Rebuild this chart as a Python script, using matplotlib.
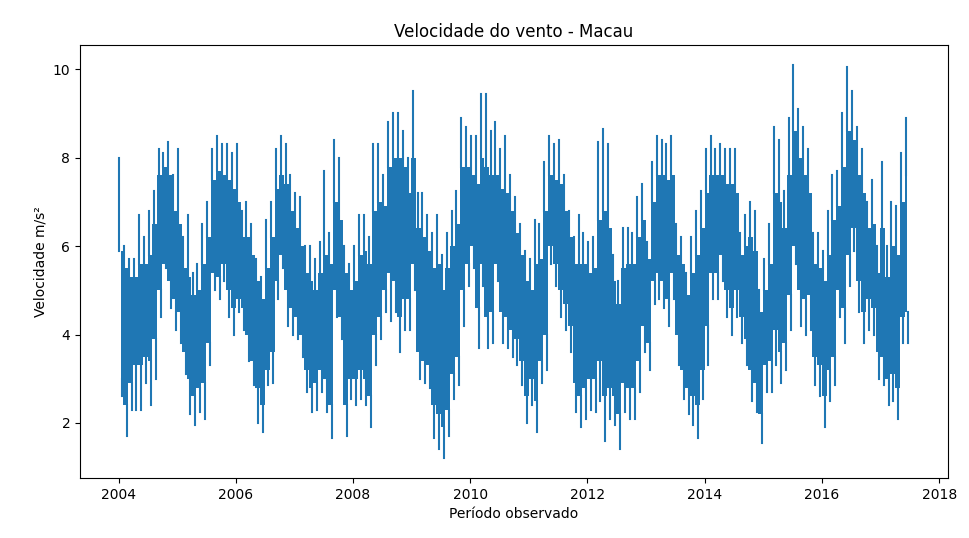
"""
Velocidade do vento - Macau
Monthly readings taken off the reference chart: the extreme high / low
spikes and the extent of the solid core band.  The core is drawn as a
filled band, the spikes as thin vertical strokes above and below it.
"""

import pandas as pd
import matplotlib
matplotlib.use("Agg")
import matplotlib.pyplot as plt
import matplotlib.dates as mdates

# ── data: readings per month, Jan 2004 .. Jun 2017 ───────────────────────────
START_MONTH = "2004-01-01"

MONTH_HIGH = [
    8.0, 6.0, 5.7, 5.7, 6.7, 6.2, 6.8, 7.25, 8.2, 8.1, 8.35, 7.6,    # 2004
    8.2, 6.2, 6.7, 5.4, 5.6, 6.5, 7.0, 8.2, 8.5, 8.3, 8.3, 8.1,      # 2005
    8.3, 6.8, 7.0, 6.5, 5.7, 5.3, 6.6, 7.0, 8.2, 8.5, 8.3, 7.6,      # 2006
    7.2, 7.1, 6.0, 6.0, 5.7, 6.1, 7.7, 6.3, 8.4, 8.0, 6.0, 5.6,      # 2007
    6.0, 6.7, 6.7, 6.2, 8.3, 8.3, 7.6, 8.8, 9.0, 9.0, 8.6, 8.0,      # 2008
    9.5, 7.2, 7.2, 6.7, 6.3, 6.7, 5.8, 6.3, 6.8, 7.25, 8.9, 8.7,     # 2009
    8.5, 8.5, 9.45, 9.45, 8.6, 8.8, 8.2, 8.5, 7.6, 7.1, 6.5, 5.9,    # 2010
    5.7, 6.6, 6.5, 7.9, 8.5, 8.3, 8.4, 7.6, 6.8, 6.2, 6.7, 6.3,      # 2011
    6.1, 6.2, 8.35, 8.65, 8.3, 5.8, 5.2, 6.4, 6.4, 6.3, 7.1, 7.4,    # 2012
    6.1, 7.9, 8.5, 8.4, 8.3, 8.5, 6.5, 6.2, 5.4, 6.2, 6.8, 7.25,     # 2013
    8.2, 8.5, 8.2, 8.3, 8.2, 8.2, 8.2, 6.3, 6.7, 7.0, 6.8, 5.0,      # 2014
    5.7, 6.5, 8.7, 8.4, 7.25, 8.9, 10.1, 9.1, 8.7, 8.2, 6.3, 6.3,    # 2015
    5.9, 6.8, 7.6, 7.7, 9.0, 10.05, 9.5, 8.7, 8.2, 7.0, 7.5, 6.0,    # 2016
    7.9, 6.0, 7.0, 6.9, 8.1, 8.9,                                    # 2017
]

MONTH_LOW = [
    2.6, 1.7, 2.3, 2.3, 2.3, 2.9, 2.4, 3.0, 4.4, 5.5, 4.6, 4.1,      # 2004
    3.8, 3.1, 2.2, 1.95, 2.25, 2.1, 3.3, 5.0, 4.8, 5.2, 4.4, 4.0,    # 2005
    4.5, 4.1, 3.4, 2.85, 2.0, 1.8, 2.85, 2.9, 4.8, 5.5, 4.2, 4.0,    # 2006
    3.9, 3.5, 2.7, 2.25, 2.3, 2.7, 2.25, 1.65, 4.4, 3.9, 1.7, 2.55,  # 2007
    2.4, 2.55, 2.4, 1.9, 3.3, 3.9, 4.5, 4.3, 4.5, 3.6, 4.1, 4.1,     # 2008
    5.0, 3.0, 2.9, 2.8, 1.65, 1.4, 1.2, 1.7, 2.55, 2.85, 4.2, 5.1,   # 2009
    5.5, 3.7, 5.1, 3.7, 3.8, 5.2, 3.8, 3.7, 3.5, 3.3, 2.85, 2.0,     # 2010
    2.4, 1.8, 2.9, 3.2, 5.6, 5.1, 4.4, 4.1, 3.6, 2.25, 1.9, 2.1,     # 2011
    2.3, 2.25, 2.5, 1.6, 2.1, 1.95, 1.4, 2.25, 2.1, 2.1, 2.7, 3.6,   # 2012
    3.2, 4.7, 4.8, 4.6, 4.2, 4.8, 3.3, 2.55, 2.2, 1.95, 1.65, 2.55,  # 2013
    3.3, 4.8, 4.8, 5.2, 4.4, 4.0, 4.4, 3.8, 3.3, 2.5, 2.25, 1.55,    # 2014
    2.7, 2.7, 3.3, 2.9, 3.2, 4.1, 5.6, 4.2, 4.0, 4.1, 2.85, 2.6,     # 2015
    1.9, 2.5, 2.85, 4.4, 3.8, 5.1, 5.9, 4.5, 3.8, 4.1, 4.0, 3.0,     # 2016
    2.85, 2.4, 2.5, 2.1, 3.8, 3.8,                                   # 2017
]

# top and bottom of the solid part of the band
CORE_HIGH = [
    5.9, 5.5, 5.3, 5.3, 5.6, 5.6, 5.8, 6.5, 7.6, 7.8, 7.6, 6.8,      # 2004
    6.5, 5.5, 5.3, 4.9, 5.0, 5.6, 6.2, 7.5, 7.7, 7.6, 7.5, 7.3,      # 2005
    7.0, 6.2, 6.2, 5.8, 5.2, 4.8, 5.5, 6.2, 7.3, 7.6, 7.4, 6.8,      # 2006
    6.4, 6.0, 5.4, 5.2, 5.0, 5.4, 5.8, 5.6, 7.0, 6.6, 5.4, 5.0,      # 2007
    5.2, 5.8, 5.9, 5.6, 6.8, 7.0, 6.9, 7.8, 8.0, 8.0, 7.8, 7.2,      # 2008
    8.0, 6.4, 6.2, 5.9, 5.5, 5.6, 5.0, 5.5, 6.0, 6.5, 7.8, 7.8,      # 2009
    7.6, 7.4, 8.0, 7.8, 7.6, 7.6, 7.3, 7.2, 6.8, 6.3, 5.8, 5.2,      # 2010
    5.0, 5.6, 5.7, 6.8, 7.6, 7.5, 7.4, 6.8, 6.2, 5.6, 5.6, 5.6,      # 2011
    5.4, 5.5, 6.6, 6.8, 6.4, 5.2, 4.7, 5.5, 5.6, 5.6, 6.2, 6.6,      # 2012
    5.7, 7.0, 7.6, 7.6, 7.5, 7.6, 5.8, 5.6, 4.9, 5.4, 5.8, 6.4,      # 2013
    7.2, 7.6, 7.6, 7.6, 7.4, 7.4, 7.2, 5.8, 6.0, 6.2, 5.9, 4.5,      # 2014
    5.0, 5.6, 7.2, 7.0, 6.4, 7.6, 8.6, 8.0, 7.6, 7.2, 5.6, 5.5,      # 2015
    5.2, 5.8, 6.6, 6.9, 7.8, 8.6, 8.4, 7.6, 7.2, 6.4, 6.5, 5.4,      # 2016
    6.4, 5.3, 6.0, 5.8, 7.0, 7.6,                                    # 2017
]

CORE_LOW = [
    3.0, 2.4, 2.9, 3.3, 3.3, 3.5, 3.4, 3.9, 5.0, 5.6, 5.2, 4.8,      # 2004
    4.5, 3.6, 3.0, 2.6, 2.8, 2.9, 3.8, 5.4, 5.3, 5.6, 5.0, 4.6,      # 2005
    4.8, 4.6, 4.0, 3.4, 2.8, 2.4, 3.2, 3.6, 5.2, 5.8, 5.0, 4.6,      # 2006
    4.4, 4.0, 3.2, 2.8, 2.9, 3.2, 3.0, 2.4, 5.0, 4.4, 2.4, 3.0,      # 2007
    3.0, 3.2, 3.0, 2.6, 4.0, 4.4, 5.0, 5.4, 5.2, 4.4, 4.8, 4.8,      # 2008
    5.6, 3.6, 3.4, 3.3, 2.4, 2.2, 1.9, 2.3, 3.1, 3.5, 5.0, 5.6,      # 2009
    6.0, 4.6, 5.6, 4.4, 4.5, 5.6, 4.5, 4.4, 4.1, 3.9, 3.4, 2.6,      # 2010
    3.0, 2.5, 3.4, 4.0, 6.0, 5.6, 5.0, 4.7, 4.2, 2.9, 2.6, 2.8,      # 2011
    3.0, 3.0, 3.4, 2.6, 2.8, 2.6, 2.2, 2.9, 2.8, 2.8, 3.4, 4.2,      # 2012
    3.8, 5.2, 5.4, 5.2, 4.8, 5.4, 4.0, 3.2, 2.8, 2.6, 2.4, 3.2,      # 2013
    4.2, 5.4, 5.4, 5.8, 5.0, 4.6, 5.0, 4.4, 3.9, 3.2, 2.9, 2.2,      # 2014
    3.3, 3.4, 4.1, 3.6, 3.8, 4.9, 6.0, 5.0, 4.8, 4.9, 3.5, 3.3,      # 2015
    2.6, 3.2, 3.5, 5.0, 4.6, 5.8, 6.4, 5.2, 4.5, 4.8, 4.6, 3.6,      # 2016
    3.5, 3.0, 3.1, 2.8, 4.4, 4.5,                                    # 2017
]

TITLE = "Velocidade do vento - Macau"
X_LABEL = "Período observado"
Y_LABEL = "Velocidade m/s²"
LINE_COLOUR = "#1f77b4"


# ─────────────────────────────────────────────────────────────────────────────
def main():
    months = pd.date_range(START_MONTH, periods=len(MONTH_HIGH), freq="MS")
    mid_month = months + pd.Timedelta(days=14)
    high_day = months + pd.Timedelta(days=6)
    low_day = months + pd.Timedelta(days=21)

    fig = plt.figure(figsize=(9.69, 5.38), dpi=100)
    ax = fig.add_axes([0.0826, 0.1115, 0.8954, 0.8045])

    # solid core of the daily series
    ax.fill_between(mid_month, CORE_LOW, CORE_HIGH, step="mid",
                    color=LINE_COLOUR, linewidth=0)
    # extreme spikes above and below the core
    ax.vlines(high_day, CORE_HIGH, MONTH_HIGH, color=LINE_COLOUR,
              linewidth=1.5, capstyle="projecting")
    ax.vlines(low_day, MONTH_LOW, CORE_LOW, color=LINE_COLOUR,
              linewidth=1.5, capstyle="projecting")

    ax.xaxis.set_major_locator(mdates.YearLocator(2))
    ax.xaxis.set_major_formatter(mdates.DateFormatter("%Y"))

    ax.set_title(TITLE, fontsize=12)
    ax.set_xlabel(X_LABEL, fontsize=10)
    ax.set_ylabel(Y_LABEL, fontsize=10)

    fig.savefig("out.png", dpi=100)
    plt.close(fig)


if __name__ == "__main__":
    main()
